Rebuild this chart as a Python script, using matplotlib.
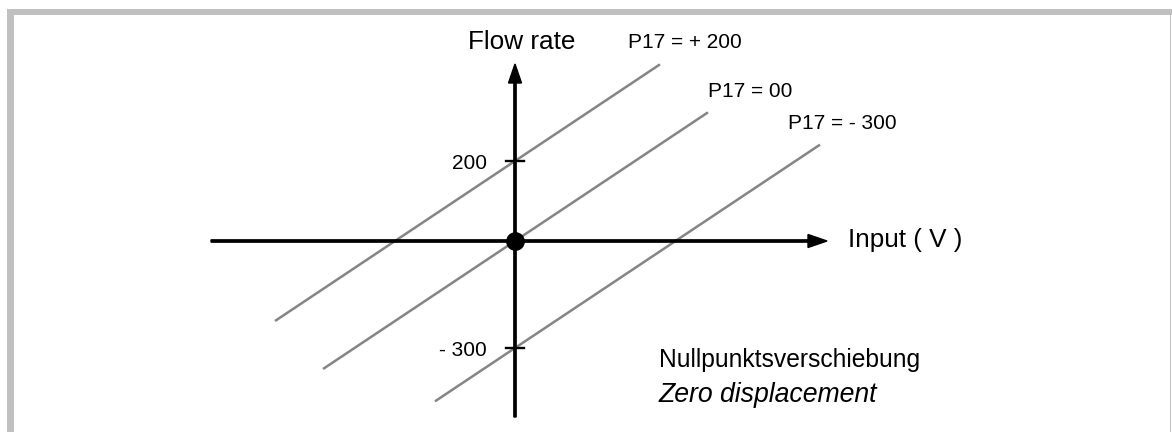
#!/usr/bin/env python3
"""Zero displacement (P17) schematic: flow rate vs input voltage."""

import matplotlib
matplotlib.use('Agg')
import numpy as np
import matplotlib.pyplot as plt
from matplotlib.patches import Rectangle

plt.rcParams['font.family'] = ['Liberation Sans', 'DejaVu Sans']

# Figure size in pixels (dpi 100)
W, H = 1172, 432

# Characteristic lines, one per P17 setting (schematic units = pixels,
# origin at the axis crossing)
p17_labels = ['P17 = + 200', 'P17 = 00', 'P17 = - 300']
p17_offset = [80, 0, -107]        # where each line crosses the flow axis
p17_x_start = [-240, -192, -80]   # left end of each line
line_length = 385                 # horizontal extent of each line
slope = 2.0 / 3.0

# Flow rate axis tick marks
tick_pos = [80, -107]
tick_labels = ['200', '- 300']


def main():
    fig = plt.figure(figsize=(W / 100, H / 100), dpi=100)
    ax = fig.add_axes([0, 0, 1, 1])
    ax.set_xlim(-515, W - 515)
    ax.set_ylim(241 - H, 241)
    ax.axis('off')

    # Grey frame (top bar, left bar, thin right line)
    frame = '#c0c0c0'
    ax.add_patch(Rectangle((7 / W, 1 - 15 / H), 1 - 7 / W, 6 / H,
                           transform=ax.transAxes, color=frame, lw=0))
    ax.add_patch(Rectangle((7 / W, 0), 7 / W, 1 - 9 / H,
                           transform=ax.transAxes, color=frame, lw=0))
    ax.add_patch(Rectangle((1169.5 / W, 0), 1.5 / W, 1 - 9 / H,
                           transform=ax.transAxes, color=frame, lw=0))

    # Characteristic lines
    for x0, off in zip(p17_x_start, p17_offset):
        x = np.array([x0, x0 + line_length])
        ax.plot(x, off + slope * x, color='#858585', lw=1.8,
                solid_capstyle='butt', zorder=2)

    # Axes with arrow heads
    ax.arrow(-304, 0, 616, 0, width=2.3, head_width=13, head_length=19,
             length_includes_head=True, color='black', zorder=3)
    ax.arrow(0, -176, 0, 353, width=2.3, head_width=13, head_length=19,
             length_includes_head=True, color='black', zorder=3)
    ax.plot(0, 0, 'o', ms=12.5, color='black', zorder=4)

    # Ticks on the flow axis
    for pos, lab in zip(tick_pos, tick_labels):
        ax.plot([-9, 9], [pos, pos], color='black', lw=1.7, zorder=3)
        ax.text(-28, pos - 8, lab, ha='right', va='baseline', fontsize=15)

    # Line labels
    label_xy = [(113, 193), (193, 144), (273, 112)]
    for (lx, ly), lab in zip(label_xy, p17_labels):
        ax.text(lx, ly, lab, ha='left', va='baseline', fontsize=15)

    # Axis titles
    ax.text(-47, 192, 'Flow rate', ha='left', va='baseline', fontsize=18.8)
    ax.text(333, -6, 'Input ( V )', ha='left', va='baseline', fontsize=18.8)

    # Caption
    ax.text(144, -126, 'Nullpunktsverschiebung', ha='left', va='baseline',
            fontsize=17.7)
    ax.text(144, -161, 'Zero displacement', ha='left', va='baseline',
            fontsize=19.2, style='italic')

    fig.savefig('out.png', dpi=100)


if __name__ == '__main__':
    main()
